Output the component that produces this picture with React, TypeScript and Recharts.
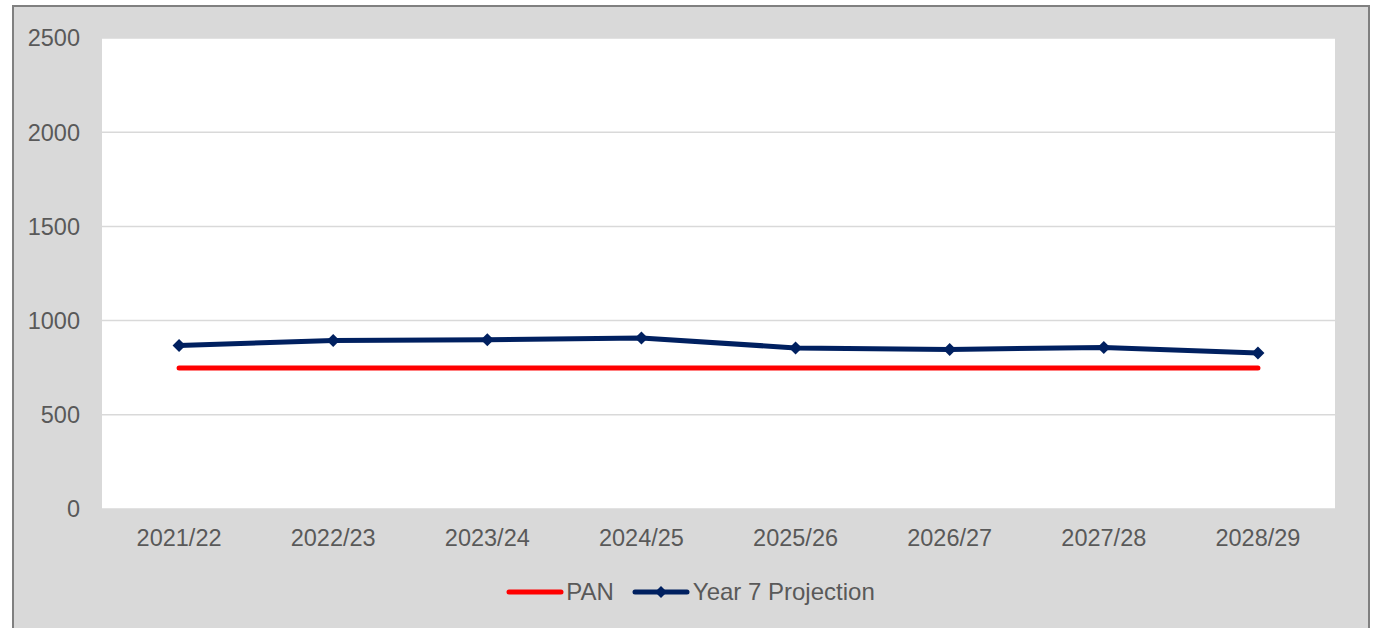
import React from 'react';
import { LineChart, Line, XAxis, YAxis, CartesianGrid, Legend } from 'recharts';

const COLORS = {
    pan: '#ff0000',
    projection: '#002060',
    text: '#595959',
    grid: '#d9d9d9',
    panel: '#d9d9d9',
    border: '#808080'
};

const years = ['2021/22', '2022/23', '2023/24', '2024/25', '2025/26', '2026/27', '2027/28', '2028/29'];
const panValues = [748, 748, 748, 748, 748, 748, 748, 748];
const projectionValues = [868, 894, 899, 908, 855, 847, 857, 828];
const yTicks = [0, 500, 1000, 1500, 2000, 2500];

const chartData = years.map((year, i) => ({
    year,
    PAN: panValues[i],
    'Year 7 Projection': projectionValues[i]
}));

const FONT = '"Liberation Sans", Arial, sans-serif';

const Diamond = (props: any) => {
    const { cx, cy } = props;
    if (cx == null || cy == null) return null;
    const r = 6.5;
    return (
        <polygon
            points={`${cx},${cy - r} ${cx + r},${cy} ${cx},${cy + r} ${cx - r},${cy}`}
            fill={COLORS.projection}
        />
    );
};

const renderLegend = () => (
    <div style={{ display: 'flex', justifyContent: 'center', alignItems: 'center', marginTop: 19, paddingLeft: 46, fontFamily: FONT, fontSize: 24, color: COLORS.text }}>
        <svg width={58} height={10} style={{ marginRight: 2 }}>
            <line x1={3} y1={5} x2={55} y2={5} stroke={COLORS.pan} strokeWidth={5} strokeLinecap="round" />
        </svg>
        <span style={{ marginRight: 18 }}>PAN</span>
        <svg width={58} height={14} style={{ marginRight: 3 }}>
            <line x1={3} y1={7} x2={55} y2={7} stroke={COLORS.projection} strokeWidth={5} strokeLinecap="round" />
            <polygon points="29,1 35,7 29,13 23,7" fill={COLORS.projection} />
        </svg>
        <span>Year 7 Projection</span>
    </div>
);

export default function App() {
    return (
        <div style={{ position: 'absolute', left: 0, top: 0, width: 1375, height: 628, overflow: 'hidden' }}>
            <div
                style={{
                    position: 'absolute',
                    left: 12,
                    top: 5,
                    width: 1354,
                    height: 640,
                    background: COLORS.panel,
                    border: `2px solid ${COLORS.border}`
                }}
            />
            <div style={{ position: 'absolute', left: 0, top: 0 }}>
                <LineChart width={1375} height={628} data={chartData} margin={{ top: 38, right: 40, left: 0, bottom: 18 }}>
                    <CartesianGrid vertical={false} stroke={COLORS.grid} strokeWidth={1.5} fill="#ffffff" />
                    <XAxis
                        dataKey="year"
                        scale="band"
                        interval={0}
                        axisLine={false}
                        tickLine={false}
                        tickSize={0}
                        tickMargin={20}
                        height={50}
                        tick={{ fill: COLORS.text, fontSize: 23.5, fontFamily: FONT }}
                    />
                    <YAxis
                        domain={[0, 2500]}
                        ticks={yTicks}
                        width={102}
                        axisLine={false}
                        tickLine={false}
                        tickSize={0}
                        tickMargin={22}
                        tick={{ fill: COLORS.text, fontSize: 23.5, fontFamily: FONT }}
                    />
                    <Legend verticalAlign="bottom" height={51} content={renderLegend} />
                    <Line
                        dataKey="PAN"
                        stroke={COLORS.pan}
                        strokeWidth={5}
                        strokeLinecap="round"
                        dot={false}
                        isAnimationActive={false}
                    />
                    <Line
                        dataKey="Year 7 Projection"
                        stroke={COLORS.projection}
                        strokeWidth={5}
                        dot={<Diamond />}
                        isAnimationActive={false}
                    />
                </LineChart>
            </div>
        </div>
    );
}
